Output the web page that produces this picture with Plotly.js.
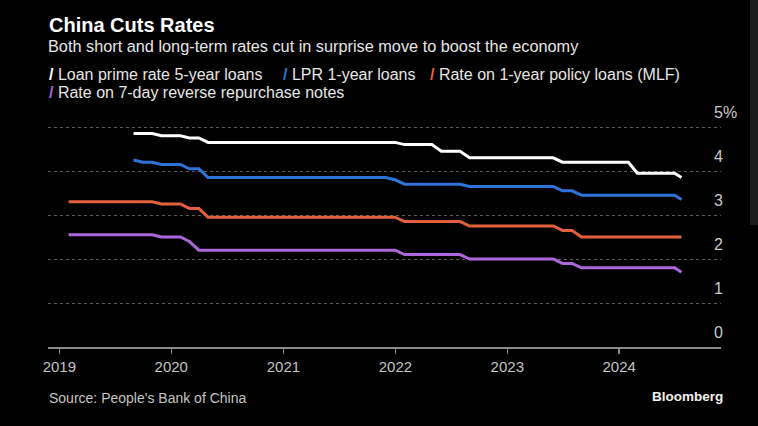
<!DOCTYPE html>
<html>
<head>
<meta charset="utf-8">
<script src="https://cdn.plot.ly/plotly-3.0.1.min.js"></script>
<style>
  html, body { margin: 0; padding: 0; background: #000; }
  #chart { width: 758px; height: 426px; }
</style>
</head>
<body>
<div id="chart"></div>
<script>
// ---- Data (monthly, month-end; last point is 2024-07-22) ----
const seriesNames = [
  "Loan prime rate 5-year loans",
  "LPR 1-year loans",
  "Rate on 1-year policy loans (MLF)",
  "Rate on 7-day reverse repurchase notes"
];
const seriesColors = ["#ffffff", "#2f72d8", "#e3603d", "#ab68dc"];

const lastDate = "2024-07-22";
const fullStart = "2019-01"; // MLF & reverse repo start
const lprStart = "2019-08";  // LPR reform start

const lpr5 = [
  4.85, 4.85, 4.85, 4.80, 4.80,                                   // 2019 Aug-Dec
  4.80, 4.75, 4.75, 4.65, 4.65, 4.65, 4.65, 4.65, 4.65, 4.65, 4.65, 4.65, // 2020
  4.65, 4.65, 4.65, 4.65, 4.65, 4.65, 4.65, 4.65, 4.65, 4.65, 4.65, 4.65, // 2021
  4.60, 4.60, 4.60, 4.60, 4.45, 4.45, 4.45, 4.30, 4.30, 4.30, 4.30, 4.30, // 2022
  4.30, 4.30, 4.30, 4.30, 4.30, 4.20, 4.20, 4.20, 4.20, 4.20, 4.20, 4.20, // 2023
  4.20, 3.95, 3.95, 3.95, 3.95, 3.95,                             // 2024 Jan-Jun
  3.85                                                            // 2024-07-22
];
const lpr1 = [
  4.25, 4.20, 4.20, 4.15, 4.15,
  4.15, 4.05, 4.05, 3.85, 3.85, 3.85, 3.85, 3.85, 3.85, 3.85, 3.85, 3.85,
  3.85, 3.85, 3.85, 3.85, 3.85, 3.85, 3.85, 3.85, 3.85, 3.85, 3.85, 3.80,
  3.70, 3.70, 3.70, 3.70, 3.70, 3.70, 3.70, 3.65, 3.65, 3.65, 3.65, 3.65,
  3.65, 3.65, 3.65, 3.65, 3.65, 3.55, 3.55, 3.45, 3.45, 3.45, 3.45, 3.45,
  3.45, 3.45, 3.45, 3.45, 3.45, 3.45,
  3.35
];
const mlf = [
  3.30, 3.30, 3.30, 3.30, 3.30, 3.30, 3.30, 3.30, 3.30, 3.30, 3.25, 3.25, // 2019
  3.25, 3.15, 3.15, 2.95, 2.95, 2.95, 2.95, 2.95, 2.95, 2.95, 2.95, 2.95, // 2020
  2.95, 2.95, 2.95, 2.95, 2.95, 2.95, 2.95, 2.95, 2.95, 2.95, 2.95, 2.95, // 2021
  2.85, 2.85, 2.85, 2.85, 2.85, 2.85, 2.85, 2.75, 2.75, 2.75, 2.75, 2.75, // 2022
  2.75, 2.75, 2.75, 2.75, 2.75, 2.65, 2.65, 2.50, 2.50, 2.50, 2.50, 2.50, // 2023
  2.50, 2.50, 2.50, 2.50, 2.50, 2.50,                                     // 2024 Jan-Jun
  2.50
];
const reverseRepo = [
  2.55, 2.55, 2.55, 2.55, 2.55, 2.55, 2.55, 2.55, 2.55, 2.55, 2.50, 2.50,
  2.50, 2.40, 2.20, 2.20, 2.20, 2.20, 2.20, 2.20, 2.20, 2.20, 2.20, 2.20,
  2.20, 2.20, 2.20, 2.20, 2.20, 2.20, 2.20, 2.20, 2.20, 2.20, 2.20, 2.20,
  2.10, 2.10, 2.10, 2.10, 2.10, 2.10, 2.10, 2.00, 2.00, 2.00, 2.00, 2.00,
  2.00, 2.00, 2.00, 2.00, 2.00, 1.90, 1.90, 1.80, 1.80, 1.80, 1.80, 1.80,
  1.80, 1.80, 1.80, 1.80, 1.80, 1.80,
  1.70
];

const yearTicks = ["2019", "2020", "2021", "2022", "2023", "2024"];
const yTickVals = [0, 1, 2, 3, 4, 5];
const yTickText = ["0", "1", "2", "3", "4", "5%"];

// ---- Build month-end date lists ----
function monthEnds(startYM, count) {
  const [y0, m0] = startYM.split("-").map(Number);
  const out = [];
  for (let i = 0; i < count; i++) {
    const y = y0 + Math.floor((m0 - 1 + i) / 12);
    const m = ((m0 - 1 + i) % 12) + 1;
    const d = new Date(Date.UTC(y, m, 0)).getUTCDate();
    out.push(y + "-" + String(m).padStart(2, "0") + "-" + String(d).padStart(2, "0"));
  }
  return out;
}
const lprDates = monthEnds(lprStart, lpr5.length - 1).concat([lastDate]);
const fullDates = monthEnds(fullStart, mlf.length - 1).concat([lastDate]);

const seriesData = [
  [lprDates, lpr5], [lprDates, lpr1], [fullDates, mlf], [fullDates, reverseRepo]
];

const traces = seriesData.map((s, i) => ({
  x: s[0], y: s[1], type: "scatter", mode: "lines",
  name: seriesNames[i],
  line: { color: seriesColors[i], width: 3, shape: "linear" },
  showlegend: false, hoverinfo: "skip"
}));

const sans = "Liberation Sans, Arial, sans-serif";

// plot area: x 48..721, y 116..347 px
const L = 48, R = 721, T = 116, B = 347;
const px = v => (v - L) / (R - L);
const py = v => (B - v) / (B - T);

function legendItem(i, xPix, yPix) {
  return {
    xref: "paper", yref: "paper", x: px(xPix), y: py(yPix),
    xanchor: "left", yanchor: "middle", showarrow: false,
    text: '<span style="color:' + seriesColors[i] + '"><b>/</b></span> ' + seriesNames[i],
    font: { family: sans, size: 16, color: "#e6e6e6" }
  };
}

const layout = {
  width: 758, height: 426,
  paper_bgcolor: "#000", plot_bgcolor: "#000",
  margin: { l: L, r: 758 - R, t: T, b: 426 - B },
  showlegend: false,
  title: {
    text: "<b>China Cuts Rates</b>",
    xref: "container", yref: "container",
    x: 49 / 758, xanchor: "left",
    y: 1 - 25 / 426, yanchor: "middle",
    font: { family: sans, size: 20, color: "#ffffff" }
  },
  xaxis: {
    type: "date",
    range: ["2018-11-25", "2024-11-28"],
    tickvals: yearTicks.map(y => y + "-01-01"),
    ticktext: yearTicks,
    ticks: "outside", ticklen: 5, tickwidth: 1.5, tickcolor: "#8a8a8a",
    showline: true, linecolor: "#8a8a8a", linewidth: 2,
    showgrid: false, zeroline: false,
    ticklabelstandoff: 0,
    tickfont: { family: sans, size: 15, color: "#c4c4c4" },
    fixedrange: true
  },
  yaxis: {
    range: [0, 5.25],
    side: "right",
    tickvals: yTickVals, ticktext: yTickText,
    ticks: "", showline: false, zeroline: false,
    showgrid: true, gridcolor: "#5a5a5a", gridwidth: 1, griddash: "dot",
    ticklabelposition: "outside top",
    ticklabelstandoff: -8,
    ticklabelshift: -3,
    tickfont: { family: sans, size: 16, color: "#c8c8c8" },
    fixedrange: true
  },
  annotations: [
    {
      xref: "paper", yref: "paper", x: px(46), y: py(46),
      xanchor: "left", yanchor: "middle", showarrow: false,
      text: "Both short and long-term rates cut in surprise move to boost the economy",
      font: { family: sans, size: 16.3, color: "#e6e6e6" }
    },
    legendItem(0, 47, 75),
    legendItem(1, 281, 75),
    legendItem(2, 428, 75),
    legendItem(3, 47, 93),
    {
      xref: "paper", yref: "paper", x: px(47), y: py(398),
      xanchor: "left", yanchor: "middle", showarrow: false,
      text: "Source: People's Bank of China",
      font: { family: sans, size: 14, color: "#c4c4c4" }
    },
    {
      xref: "paper", yref: "paper", x: px(725), y: py(396),
      xanchor: "right", yanchor: "middle", showarrow: false,
      text: "<b>Bloomberg</b>",
      font: { family: sans, size: 13.5, color: "#f0f0f0" }
    }
  ],
  shapes: [
    {
      type: "rect", xref: "paper", yref: "paper", layer: "below",
      x0: px(750), x1: px(760), y0: py(225), y1: py(-2),
      fillcolor: "#1b1b1b", line: { width: 0 }
    }
  ]
};

Plotly.newPlot("chart", traces, layout, { displayModeBar: false, staticPlot: true });
</script>
</body>
</html>
